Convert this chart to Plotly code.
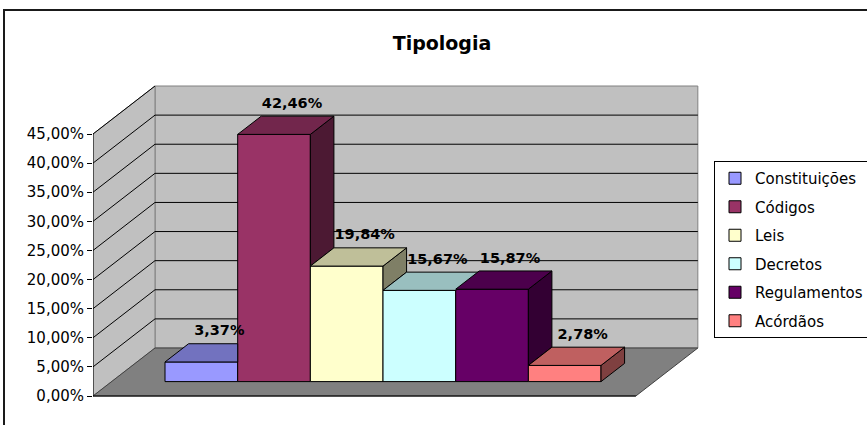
import plotly.graph_objects as go

# ---------------- data ----------------
categories = ["Constituições", "Códigos", "Leis", "Decretos", "Regulamentos", "Acórdãos"]
values = [3.37, 42.46, 19.84, 15.67, 15.87, 2.78]
tick_values = [0, 5, 10, 15, 20, 25, 30, 35, 40, 45]
tick_labels = ["0,00%", "5,00%", "10,00%", "15,00%", "20,00%", "25,00%",
               "30,00%", "35,00%", "40,00%", "45,00%"]
front_colors = ["#9999FF", "#993366", "#FFFFCC", "#CCFFFF", "#660066", "#FF8080"]
title_text = "Tipologia"

# ---------------- geometry (pixels -> axis units) ----------------
W, H = 867, 425
ML, MR, MT, MB = 93, 147, 60, 15
PW, PH = W - ML - MR, H - MT - MB
PX_X = 72.67          # px per category
PX_Y = 5.822          # px per percent
Y0_PX = 396           # pixel of 0 %
DX = 62 / PX_X        # full depth offset (x)
DY = 48 / PX_Y        # full depth offset (y)
G = 0.30              # gap in front of bars (fraction of depth)
BD = 0.38             # bar depth (fraction)
L = -1.235            # floor front-left
R = len(categories) - 1 + 0.5 + (-0.5 - L)
YMAX = tick_values[-1]

xrange = [L, L + PW / PX_X]
yrange = [-(H - MB - Y0_PX) / PX_Y, (Y0_PX - MT) / PX_Y]


def shade(hx, f):
    hx = hx.lstrip("#")
    r, g, b = (int(hx[k:k + 2], 16) for k in (0, 2, 4))
    return "#%02X%02X%02X" % (int(r * f), int(g * f), int(b * f))


def clip_x_max(poly, xmax):
    out = []
    n = len(poly)
    for k in range(n):
        p, q = poly[k], poly[(k + 1) % n]
        pin, qin = p[0] <= xmax + 1e-9, q[0] <= xmax + 1e-9
        if pin:
            out.append(p)
        if pin != qin:
            t = (xmax - p[0]) / (q[0] - p[0])
            out.append((xmax, p[1] + t * (q[1] - p[1])))
    return out


fig = go.Figure()

# front faces as bars (also give the legend)
for i, (cat, v, col) in enumerate(zip(categories, values, front_colors)):
    fig.add_trace(go.Bar(
        x=[i + G * DX], y=[v], base=[G * DY], width=1,
        name=cat, legendgroup=cat,
        marker=dict(color=col, line=dict(color="#000000", width=1)),
        hoverinfo="skip",
    ))


def poly_trace(pts, color):
    xs = [p[0] for p in pts] + [pts[0][0]]
    ys = [p[1] for p in pts] + [pts[0][1]]
    return go.Scatter(x=xs, y=ys, mode="lines", fill="toself", fillcolor=color,
                      line=dict(color="#000000", width=1), showlegend=False,
                      hoverinfo="skip")


n = len(values)
for i, (v, col) in enumerate(zip(values, front_colors)):
    xl = i - 0.5 + G * DX
    xr = i + 0.5 + G * DX
    yf = v + G * DY
    yb = v + (G + BD) * DY
    bdx = BD * DX
    # side face (visible part only)
    h_low = values[i + 1] if i < n - 1 else 0
    h_low = max(h_low, 0)
    if h_low < v:
        side = [(xr, h_low + G * DY), (xr, yf), (xr + bdx, yb),
                (xr + bdx, h_low + (G + BD) * DY)]
        fig.add_trace(poly_trace(side, shade(col, 0.5)))
    # top face
    top = [(xl, yf), (xr, yf), (xr + bdx, yb), (xl + bdx, yb)]
    if i < n - 1 and values[i + 1] - v >= BD * DY:
        top = clip_x_max(top, xr)
    fig.add_trace(poly_trace(top, shade(col, 0.75)))

# data labels
fig.add_trace(go.Scatter(
    x=[i + G * DX + 18 / PX_X for i in range(n)],
    y=[v + (G + BD) * DY + 12 / PX_Y for v in values],
    mode="text",
    text=[f"{v:.2f}".replace(".", ",") + "%" for v in values],
    textposition="middle center",
    textfont=dict(family="DejaVu Sans", size=14.5, color="#000000", weight="bold"),
    showlegend=False, hoverinfo="skip",
))

# ---------------- walls, floor, gridlines (shapes below traces) ----------------
shapes = []
wall_col = "#C0C0C0"
edge_col = "#808080"
# back wall
shapes.append(dict(type="rect", xref="x", yref="y", layer="below",
                   x0=L + DX, x1=R + DX, y0=DY, y1=YMAX + DY,
                   fillcolor=wall_col, line=dict(color=edge_col, width=1)))
# side wall
shapes.append(dict(type="path", xref="x", yref="y", layer="below",
                   path=f"M{L},{0} L{L},{YMAX} L{L + DX},{YMAX + DY} L{L + DX},{DY} Z",
                   fillcolor=wall_col, line=dict(color=edge_col, width=1)))
# floor
shapes.append(dict(type="path", xref="x", yref="y", layer="below",
                   path=f"M{L},{0} L{R},{0} L{R + DX},{DY} L{L + DX},{DY} Z",
                   fillcolor="#808080", line=dict(color="#404040", width=1)))
# gridlines
for t in tick_values[1:-1]:
    shapes.append(dict(type="line", xref="x", yref="y", layer="below",
                       x0=L, y0=t, x1=L + DX, y1=t + DY,
                       line=dict(color="#000000", width=1)))
    shapes.append(dict(type="line", xref="x", yref="y", layer="below",
                       x0=L + DX, y0=t + DY, x1=R + DX, y1=t + DY,
                       line=dict(color="#000000", width=1)))
shapes.append(dict(type="line", xref="x", yref="y", layer="below",
                   x0=L, y0=YMAX, x1=L + DX, y1=YMAX + DY,
                   line=dict(color="#000000", width=1)))
# value axis line & category axis line
shapes.append(dict(type="line", xref="x", yref="y", layer="below",
                   x0=L, y0=0, x1=L, y1=YMAX, line=dict(color="#000000", width=1)))
shapes.append(dict(type="line", xref="x", yref="y", layer="below",
                   x0=L, y0=0, x1=R, y1=0, line=dict(color="#000000", width=1)))
# outer chart frame
shapes.append(dict(type="rect", xref="paper", yref="paper", layer="above",
                   x0=(4 - ML) / PW, x1=(W + 20 - ML) / PW,
                   y0=(H - MB - (H + 20)) / PH, y1=(H - MB - 10) / PH,
                   line=dict(color="#1a1a1a", width=2), fillcolor="rgba(0,0,0,0)"))

fig.update_layout(
    width=W, height=H,
    margin=dict(l=ML, r=MR, t=MT, b=MB, autoexpand=False),
    paper_bgcolor="#FFFFFF", plot_bgcolor="#FFFFFF",
    barmode="overlay",
    shapes=shapes,
    title=dict(text=title_text, x=442 / W, xanchor="center", xref="container",
               y=1 - 43 / H, yanchor="middle", yref="container",
               font=dict(family="DejaVu Sans", size=19, color="#000000", weight="bold")),
    xaxis=dict(range=xrange, visible=False, fixedrange=True),
    yaxis=dict(range=yrange, tickvals=tick_values, ticktext=tick_labels,
               ticks="outside", ticklen=5, tickwidth=1, tickcolor="#000000",
               showgrid=False, zeroline=False, showline=False,
               tickfont=dict(family="DejaVu Sans", size=15, color="#000000"),
               fixedrange=True),
    legend=dict(x=(714 - ML) / PW, y=(H - MB - 161) / PH, xanchor="left", yanchor="top",
                bgcolor="#FFFFFF", bordercolor="#000000", borderwidth=1,
                font=dict(family="DejaVu Sans", size=15, color="#000000"),
                tracegroupgap=6, traceorder="grouped"),
    showlegend=True,
)

fig.write_html("out.html", config={"displayModeBar": False},
               post_script="document.body.style.margin='0';document.body.style.padding='0';")
